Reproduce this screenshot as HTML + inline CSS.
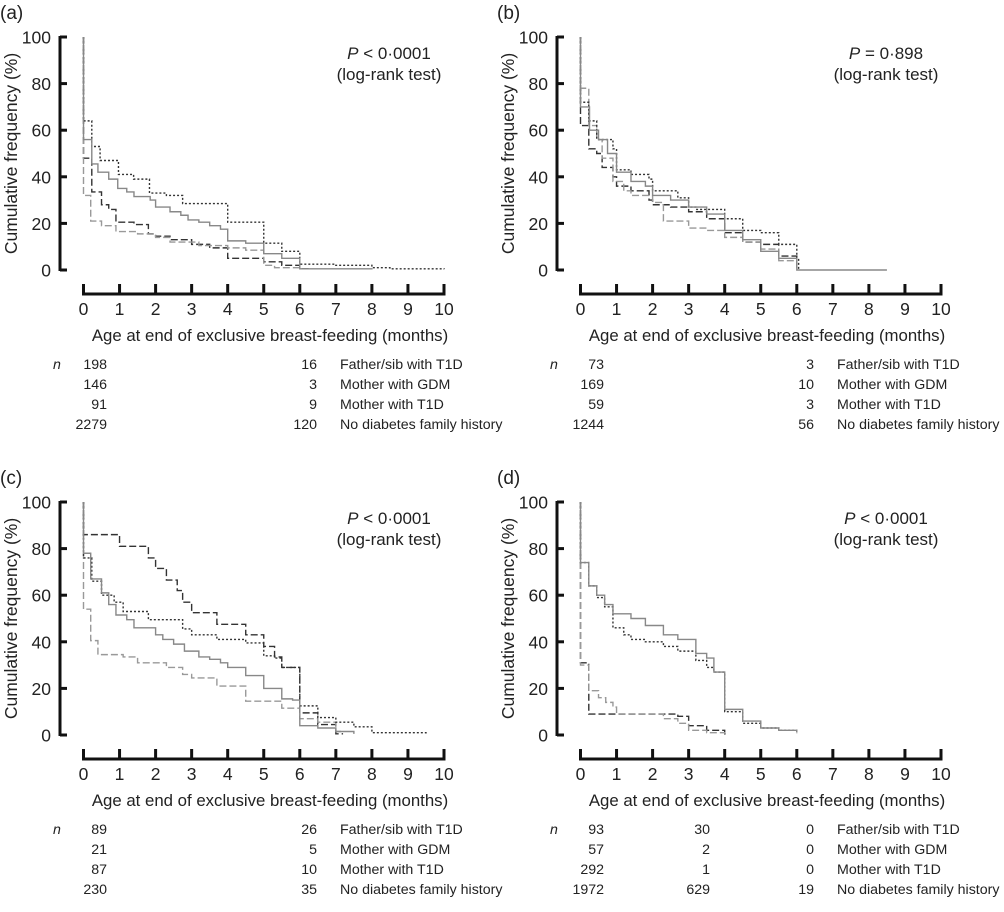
<!DOCTYPE html>
<html><head><meta charset="utf-8">
<style>
body{margin:0;background:#fff;}
svg{display:block;font-family:"Liberation Sans",Arial,sans-serif;}
</style></head>
<body>
<svg id="fig" width="1004" height="912" viewBox="0 0 1004 912" xmlns="http://www.w3.org/2000/svg"></svg>
<script>
const panelLabels = ["(a)","(b)","(c)","(d)"];
const pValues = ["< 0·0001","= 0·898","< 0·0001","< 0·0001"];
const groupNames = ["Father/sib with T1D","Mother with GDM","Mother with T1D","No diabetes family history"];
const xTicks = [0,1,2,3,4,5,6,7,8,9,10];
const yTicks = [0,20,40,60,80,100];
const nA = [["198","","16"],["146","","3"],["91","","9"],["2279","","120"]];
const nB = [["73","","3"],["169","","10"],["59","","3"],["1244","","56"]];
const nC = [["89","","26"],["21","","5"],["87","","10"],["230","","35"]];
const nD = [["93","30","0"],["57","2","0"],["292","1","0"],["1972","629","19"]];
const aFather=[[0,48],[0.23,33.5],[0.5,28],[0.7,26],[0.9,20.5],[1.4,19.5],[1.8,15.5],[2.0,14.5],[2.4,13],[3.0,11],[3.5,9.5],[4.0,5],[5.0,3.5],[5.5,2],[6.0,0.5],[6.3,0.5]];
const aGdm=[[0,32],[0.2,21],[0.5,19],[0.9,16.5],[1.5,15.5],[2.0,14],[2.4,12],[3.2,10.5],[4.0,9.5],[4.5,8.5],[5.0,2],[5.3,1],[6.0,1]];
const aT1d=[[0,64],[0.23,53],[0.46,47],[0.97,41],[1.39,39],[1.83,33],[2.3,32],[2.75,28.5],[4.0,20.5],[5.0,11.5],[5.5,8],[6.0,2.5],[7.0,2],[8.0,1],[8.5,0.5],[10,0.3]];
const aNone=[[0,56],[0.23,45.5],[0.4,42],[0.7,39],[0.95,35],[1.2,33.5],[1.4,31.5],[1.85,30],[2.0,27],[2.4,25],[2.7,23.5],[2.9,21.5],[3.2,20.5],[3.5,19],[3.8,17.5],[4.0,12.5],[4.5,11.5],[5.0,7],[5.5,5],[6.0,0.5],[8.0,0.2]];
const bFather=[[0,62],[0.23,52],[0.45,50],[0.6,44],[0.9,40],[1.0,36],[1.4,34],[1.9,30],[2.0,28],[2.5,27],[3.0,25],[3.5,22],[4.0,16],[4.5,12],[5.0,11],[5.5,6],[6.0,0]];
const bGdm=[[0,78],[0.23,62],[0.45,56],[0.6,48],[0.9,38],[1.2,34],[1.4,32],[2.0,29],[2.3,21],[3.0,18],[3.5,17],[4.0,14],[4.5,12],[5.0,9],[5.5,4],[6.0,0]];
const bT1d=[[0,72],[0.23,64],[0.45,56],[0.9,52],[1.0,43],[1.4,41],[1.9,39],[2.0,34],[2.7,31],[3.0,27],[3.2,26],[4.0,22],[4.5,17],[5.0,16],[5.5,11],[6.0,5],[6.05,0]];
const bNone=[[0,70],[0.25,60],[0.5,56],[0.75,50],[1.0,42],[1.4,38],[1.8,36],[2.0,32],[2.5,30],[3.0,27],[3.5,24],[4.0,17],[4.5,13],[5.0,8],[5.5,5],[6.0,0],[8.5,0]];
const cFather=[[0,86],[1.0,81],[1.8,76],[2.0,71.5],[2.3,66.5],[2.6,62],[2.75,57],[3.0,52.5],[3.7,47.5],[4.5,43],[5.0,38],[5.3,33.5],[5.5,29],[6.0,9.5],[6.5,4.5],[7.0,0.5],[7.2,0.5]];
const cGdm=[[0,54],[0.2,40.5],[0.4,34.5],[1.1,33.5],[1.5,31],[2.3,29],[2.75,26],[3.0,24.5],[3.7,21],[4.5,14.5],[5.5,11.5],[6.0,7],[6.5,5.5],[7.0,1.5],[7.2,1.5]];
const cT1d=[[0,76],[0.23,66],[0.5,60],[0.85,57],[1.1,53],[1.8,49.5],[2.75,45.5],[3.0,43],[3.7,41],[4.5,39.5],[5.0,34],[5.3,33],[5.5,29],[6.0,12.5],[6.5,7.5],[7.0,5.5],[7.5,3.5],[8.0,1],[9.5,0.5]];
const cNone=[[0,78],[0.2,67],[0.5,61],[0.7,56],[0.9,51.5],[1.2,49.5],[1.4,46],[2.0,43],[2.2,41],[2.5,39],[2.8,36],[3.2,33.5],[3.5,32.5],[3.8,31],[4.0,29],[4.5,25.5],[5.0,20],[5.5,15.5],[5.8,15],[6.0,4],[6.5,3],[7.0,1.5],[7.5,0.5]];
const dFather=[[0,31],[0.23,9],[2.7,8],[3.0,4],[3.5,2],[4.0,0.5],[4.05,0]];
const dGdm=[[0,30],[0.23,19],[0.5,16],[0.7,14],[0.9,12],[1.0,9],[2.0,9],[2.3,7],[2.7,5],[3.0,2],[3.5,1],[4.0,0.5]];
const dT1d=[[0,74],[0.23,64],[0.45,59],[0.67,55],[0.9,46],[1.2,43],[1.4,41],[1.8,40],[2.3,38],[2.7,36],[3.2,32],[3.5,29],[3.7,27],[4.0,10],[4.5,5],[5.0,3],[5.5,2],[6.0,0.5]];
const dNone=[[0,74],[0.23,64],[0.45,60],[0.67,56],[0.9,52],[1.4,50],[1.8,47],[2.3,43],[2.7,41],[3.2,35],[3.5,33],[3.7,27],[4.0,11],[4.5,6],[5.0,3],[5.5,2],[6.0,1]];

const styles=[
 {stroke:"#333",dash:"7,3",name:"father-sib-curve"},
 {stroke:"#999",dash:"7,3",name:"mother-gdm-curve"},
 {stroke:"#333",dash:"2,2",name:"mother-t1d-curve"},
 {stroke:"#888",dash:"",name:"no-history-curve"}];
const panels=[
 {ox:0,oy:0,series:[aFather,aGdm,aT1d,aNone],n:nA,key:"a"},
 {ox:497,oy:0,series:[bFather,bGdm,bT1d,bNone],n:nB,key:"b"},
 {ox:0,oy:465,series:[cFather,cGdm,cT1d,cNone],n:nC,key:"c"},
 {ox:497,oy:465,series:[dFather,dGdm,dT1d,dNone],n:nD,key:"d"}];

const NS="http://www.w3.org/2000/svg";
const svg=document.getElementById("fig");
function mk(tag,attrs,parent,text){const e=document.createElementNS(NS,tag);for(const k in attrs)e.setAttribute(k,attrs[k]);if(text!==undefined)e.textContent=text;parent.appendChild(e);return e;}

panels.forEach((p,pi)=>{
 const g=mk("g",{transform:`translate(${p.ox},${p.oy})`},svg);
 
 
 const X=m=>83.5+36.05*m, Y=v=>270-2.33*v;
 const lab=mk("text",{x:0,y:19,"font-size":19,fill:"#222"},g,panelLabels[pi]);
 
 
 const ya=mk("line",{x1:60,y1:Y(100)-1,x2:60,y2:Y(0)+1,stroke:"#111","stroke-width":3},g);
 
 
 yTicks.forEach(t=>{
  mk("line",{x1:60,y1:Y(t),x2:67,y2:Y(t),stroke:"#111","stroke-width":3},g);
  const tl=mk("text",{x:51,y:Y(t)+6.5,"font-size":17.5,"text-anchor":"end",fill:"#222"},g,String(t));
  
  
 });
 const yt=mk("text",{transform:`translate(17,${Y(50)}) rotate(-90)`,"font-size":17.5,"text-anchor":"middle",fill:"#222"},g,"Cumulative frequency (%)");
 
 
 const xa=mk("line",{x1:X(0)-1.5,y1:294,x2:X(10)+1.5,y2:294,stroke:"#111","stroke-width":3},g);
 
 
 xTicks.forEach(t=>{
  mk("line",{x1:X(t),y1:284,x2:X(t),y2:294,stroke:"#111","stroke-width":3},g);
  const tl=mk("text",{x:X(t),y:315,"font-size":17.5,"text-anchor":"middle",fill:"#222"},g,String(t));
  
  
 });
 const xt=mk("text",{x:270,y:341,"font-size":16.8,"text-anchor":"middle",fill:"#222"},g,"Age at end of exclusive breast-feeding (months)");
 
 
 const pt=mk("text",{x:389,y:59,"font-size":17,"text-anchor":"middle",fill:"#222"},g);
 
 
 mk("tspan",{"font-style":"italic"},pt,"P");
 mk("tspan",{},pt," "+pValues[pi]);
 const lr=mk("text",{x:389,y:80,"font-size":17,"text-anchor":"middle",fill:"#222"},g,"(log-rank test)");
 
 
 p.series.forEach((s,si)=>{
  const st=styles[si];
  let d=`M${X(0)},${Y(100)} L${X(0)},${Y(s[0][1])}`;
  for(let i=1;i<s.length;i++){d+=` L${X(s[i][0])},${Y(s[i-1][1])} L${X(s[i][0])},${Y(s[i][1])}`;}
  const path=mk("path",{d:d,fill:"none",stroke:st.stroke,"stroke-width":1.4,"stroke-dasharray":st.dash},g);
  
  
 });
 const nl=mk("text",{x:53,y:369,"font-size":14.2,"font-style":"italic",fill:"#222"},g,"n");
 
 
 p.n.forEach((row,ri)=>{
  const y=369+20*ri;
  [[107,row[0]],[213,row[1]],[317,row[2]]].forEach(c=>{
   if(c[1]==="")return;
   const t=mk("text",{x:c[0],y:y,"font-size":14.2,"text-anchor":"end",fill:"#222"},g,c[1]);
   
   
  });
  const gl=mk("text",{x:340,y:y,"font-size":14.2,fill:"#222"},g,groupNames[ri]);
  
  
 });
});
</script>
</body></html>
